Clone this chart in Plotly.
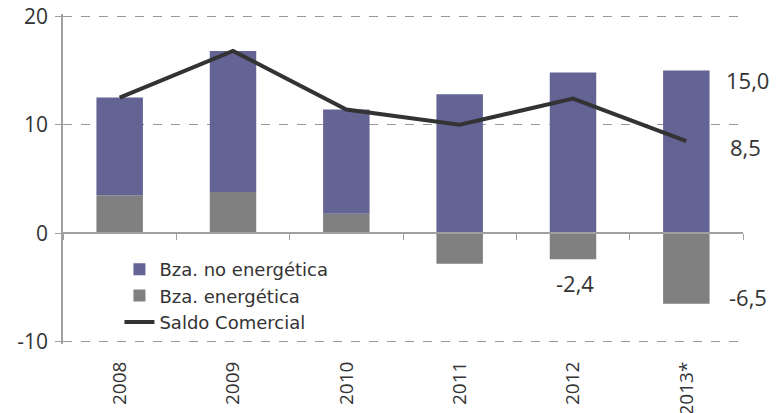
import plotly.graph_objects as go

years = ["2008", "2009", "2010", "2011", "2012", "2013*"]
bza_energetica = [3.5, 3.8, 1.8, -2.8, -2.4, -6.5]
bza_no_energetica = [9.0, 13.0, 9.6, 12.8, 14.8, 15.0]
saldo_comercial = [12.5, 16.8, 11.4, 10.0, 12.4, 8.5]
y_ticks = [-10, 0, 10, 20]
y_tick_labels = ["-10", "0", "10", "20"]

PURPLE = "#636394"
GRAY = "#808080"
LINE = "#333333"
TXT = "#333333"
FONT = "Open Sans"
Y_RANGE = [-10.2, 20.2]

fig = go.Figure()
fig.add_trace(go.Bar(x=years, y=bza_energetica, name="Bza. energética", legendrank=2,
                     marker=dict(color=GRAY, line=dict(width=0))))
fig.add_trace(go.Bar(x=years, y=bza_no_energetica, name="Bza. no energética", legendrank=1,
                     marker=dict(color=PURPLE, line=dict(width=0))))
fig.add_trace(go.Scatter(x=years, y=saldo_comercial, name="Saldo Comercial", legendrank=3,
                         mode="lines", line=dict(color=LINE, width=4)))

def fmt(v):
    return f"{v:.1f}".replace(".", ",")

i12, i13 = years.index("2012"), years.index("2013*")
annots = [
    dict(x=i13, y=bza_no_energetica[i13], text=fmt(bza_no_energetica[i13]), xshift=61, yshift=-10),
    dict(x=i13, y=saldo_comercial[i13], text=fmt(saldo_comercial[i13]), xshift=59, yshift=-6),
    dict(x=i12, y=bza_energetica[i12], text=fmt(bza_energetica[i12]), xshift=2, yshift=-24),
    dict(x=i13, y=bza_energetica[i13], text=fmt(bza_energetica[i13]), xshift=62, yshift=7),
]
for a in annots:
    fig.add_annotation(xref="x", yref="y", showarrow=False,
                       font=dict(family=FONT, size=22, color=TXT), **a)

fig.update_layout(
    width=778, height=413,
    margin=dict(l=63, r=35, t=14, b=69, autoexpand=False),
    paper_bgcolor="white", plot_bgcolor="white",
    barmode="relative", bargap=0.59,
    showlegend=True,
    legend=dict(x=0.083, y=0.282, xanchor="left", yanchor="top",
                bgcolor="rgba(0,0,0,0)", tracegroupgap=0,
                font=dict(family="DejaVu Sans", size=18, color=TXT)),
    xaxis=dict(type="category", categoryorder="array", categoryarray=years,
               range=[-0.5, len(years) - 0.5], autorange=False, automargin=False,
               anchor="free",
               position=(0 - Y_RANGE[0]) / (Y_RANGE[1] - Y_RANGE[0]),
               showgrid=False, showline=True, zeroline=False,
               linecolor="#a0a0a0", linewidth=1.5, ticks="outside",
               tickson="boundaries", ticklen=6, tickcolor="#a0a0a0",
               tickangle=-90, ticklabelstandoff=120,
               tickfont=dict(family=FONT, size=19, color=TXT)),
    yaxis=dict(range=Y_RANGE, tickvals=y_ticks, ticktext=y_tick_labels,
               showline=True, automargin=False,
               linecolor="#a0a0a0", linewidth=1.5, ticks="outside",
               ticklen=6, tickcolor="#a0a0a0", showgrid=True,
               gridcolor="#999999", griddash="dash", gridwidth=1,
               zeroline=False, ticklabelstandoff=3,
               tickfont=dict(family=FONT, size=21, color=TXT)),
)

fig.write_html("out.html", config={"displayModeBar": False},
               post_script="document.body.style.margin='0px';document.body.style.padding='0px';")
